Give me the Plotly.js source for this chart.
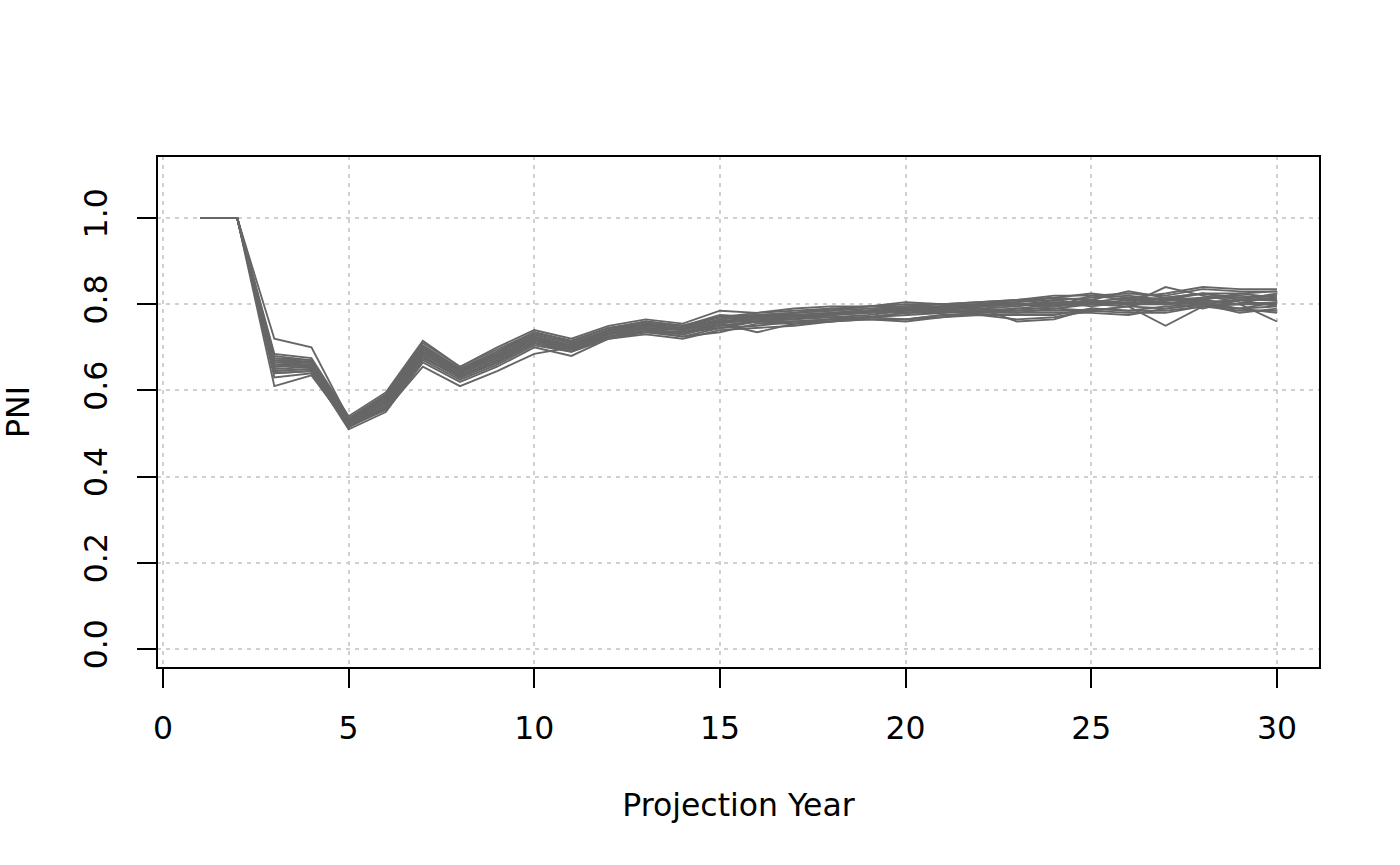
<!DOCTYPE html>
<html><head><meta charset="utf-8">
<script src="https://cdn.plot.ly/plotly-3.0.1.min.js"></script>
<style>body{margin:0;background:#fff}#c{width:1400px;height:865px}</style>
</head><body><div id="c"></div>
<script>
var years = [1,2,3,4,5,6,7,8,9,10,11,12,13,14,15,16,17,18,19,20,21,22,23,24,25,26,27,28,29,30];
var sim1 = [1,1,0.72,0.70,0.535,0.59,0.70,0.65,0.69,0.73,0.71,0.74,0.755,0.745,0.77,0.775,0.78,0.79,0.785,0.795,0.79,0.80,0.805,0.81,0.815,0.82,0.81,0.825,0.815,0.82];
var sim2 = [1,1,0.61,0.635,0.52,0.555,0.655,0.61,0.645,0.685,0.70,0.725,0.735,0.735,0.745,0.75,0.76,0.765,0.765,0.765,0.775,0.775,0.775,0.775,0.79,0.785,0.785,0.795,0.79,0.78];
var sim3 = [1,1,0.685,0.675,0.54,0.595,0.715,0.655,0.70,0.74,0.72,0.75,0.765,0.755,0.785,0.78,0.79,0.795,0.795,0.805,0.80,0.805,0.81,0.815,0.825,0.815,0.825,0.84,0.835,0.835];
var sim4 = [1,1,0.67,0.665,0.53,0.58,0.70,0.645,0.68,0.725,0.705,0.735,0.745,0.73,0.755,0.77,0.765,0.78,0.785,0.78,0.79,0.79,0.785,0.795,0.81,0.80,0.80,0.815,0.82,0.81];
var sim5 = [1,1,0.65,0.655,0.515,0.565,0.68,0.63,0.665,0.71,0.69,0.725,0.74,0.725,0.745,0.76,0.76,0.765,0.77,0.78,0.785,0.78,0.79,0.79,0.80,0.795,0.81,0.805,0.81,0.795];
var sim6 = [1,1,0.64,0.645,0.51,0.55,0.665,0.62,0.655,0.70,0.68,0.72,0.73,0.72,0.74,0.745,0.75,0.76,0.765,0.765,0.77,0.775,0.765,0.77,0.785,0.78,0.78,0.795,0.785,0.785];
var sim7 = [1,1,0.66,0.66,0.525,0.575,0.695,0.64,0.675,0.72,0.70,0.73,0.75,0.745,0.76,0.765,0.77,0.775,0.78,0.79,0.785,0.795,0.80,0.795,0.80,0.81,0.805,0.80,0.81,0.815];
var sim8 = [1,1,0.675,0.67,0.535,0.585,0.705,0.65,0.69,0.735,0.715,0.745,0.76,0.75,0.775,0.77,0.78,0.785,0.79,0.795,0.80,0.795,0.805,0.815,0.81,0.83,0.815,0.825,0.825,0.83];
var sim9 = [1,1,0.645,0.65,0.52,0.56,0.675,0.635,0.67,0.715,0.695,0.73,0.74,0.735,0.755,0.735,0.755,0.76,0.77,0.775,0.78,0.785,0.78,0.79,0.785,0.795,0.75,0.795,0.80,0.76];
var sim10 = [1,1,0.665,0.665,0.53,0.58,0.69,0.645,0.68,0.725,0.705,0.74,0.755,0.74,0.765,0.775,0.775,0.78,0.78,0.785,0.795,0.80,0.81,0.80,0.805,0.80,0.84,0.82,0.805,0.80];
var sim11 = [1,1,0.655,0.66,0.525,0.57,0.685,0.64,0.675,0.72,0.70,0.735,0.745,0.74,0.76,0.76,0.77,0.77,0.775,0.785,0.79,0.79,0.795,0.805,0.795,0.805,0.80,0.81,0.80,0.805];
var sim12 = [1,1,0.63,0.64,0.515,0.555,0.67,0.625,0.66,0.705,0.69,0.72,0.735,0.725,0.735,0.755,0.755,0.76,0.765,0.76,0.77,0.78,0.78,0.78,0.78,0.775,0.79,0.80,0.78,0.79];
var sim13 = [1,1,0.68,0.67,0.535,0.59,0.71,0.655,0.695,0.735,0.715,0.745,0.755,0.75,0.77,0.78,0.785,0.79,0.795,0.80,0.80,0.805,0.81,0.82,0.82,0.825,0.82,0.835,0.83,0.83];
var sim14 = [1,1,0.66,0.655,0.52,0.57,0.685,0.635,0.67,0.715,0.70,0.73,0.745,0.74,0.755,0.765,0.765,0.775,0.785,0.79,0.785,0.785,0.79,0.80,0.805,0.80,0.805,0.79,0.81,0.81];
var sim15 = [1,1,0.67,0.665,0.53,0.585,0.70,0.645,0.685,0.73,0.71,0.74,0.75,0.745,0.765,0.77,0.775,0.78,0.785,0.785,0.79,0.795,0.80,0.805,0.805,0.815,0.81,0.815,0.815,0.82];
var sim16 = [1,1,0.645,0.65,0.52,0.565,0.68,0.63,0.665,0.71,0.695,0.725,0.74,0.73,0.75,0.76,0.765,0.77,0.77,0.78,0.78,0.79,0.76,0.765,0.79,0.785,0.795,0.80,0.79,0.795];
var sim17 = [1,1,0.655,0.66,0.525,0.575,0.69,0.64,0.675,0.72,0.70,0.735,0.75,0.74,0.76,0.765,0.775,0.775,0.78,0.79,0.79,0.795,0.80,0.795,0.82,0.81,0.815,0.81,0.825,0.815];
var sim18 = [1,1,0.665,0.66,0.53,0.58,0.695,0.645,0.68,0.72,0.705,0.735,0.75,0.745,0.76,0.77,0.77,0.78,0.785,0.79,0.795,0.80,0.795,0.81,0.80,0.805,0.80,0.805,0.79,0.805];
var sim19 = [1,1,0.64,0.645,0.515,0.56,0.675,0.63,0.665,0.71,0.695,0.725,0.74,0.735,0.75,0.76,0.755,0.765,0.77,0.765,0.775,0.78,0.785,0.785,0.785,0.795,0.79,0.80,0.80,0.80];
var sim20 = [1,1,0.675,0.665,0.535,0.585,0.70,0.65,0.685,0.73,0.71,0.74,0.76,0.75,0.77,0.775,0.78,0.785,0.795,0.795,0.795,0.80,0.80,0.80,0.81,0.80,0.815,0.825,0.81,0.825];
var sims = [sim1,sim2,sim3,sim4,sim5,sim6,sim7,sim8,sim9,sim10,sim11,sim12,sim13,sim14,sim15,sim16,sim17,sim18,sim19,sim20];
var xTicks = [0,5,10,15,20,25,30];
var yTicks = [0,0.2,0.4,0.6,0.8,1.0];
var yTickText = ["0.0","0.2","0.4","0.6","0.8","1.0"];

var traces = sims.map(function(s,i){
  return {x: years, y: s, type:'scatter', mode:'lines', name:'sim'+(i+1),
          line:{color:'#666666', width:1.9}, hoverinfo:'skip', showlegend:false};
});
var fnt = {family:'DejaVu Sans, sans-serif', size:31.5, color:'#000'};
var layout = {
  width:1400, height:865,
  margin:{l:157, r:80, t:156, b:197, pad:0},
  paper_bgcolor:'#fff', plot_bgcolor:'#fff',
  showlegend:false,
  font: fnt,
  xaxis:{range:[-0.16,31.16], tickmode:'array', tickvals:xTicks, ticktext:xTicks.map(String),
         ticks:'outside', ticklen:19, tickwidth:2, tickcolor:'#000',
         showgrid:true, gridcolor:'#d0d0d0', griddash:'4px,5px', gridwidth:2,
         zeroline:false, showline:false, tickfont:fnt, ticklabelstandoff:13,
         title:{text:'Projection Year', font:fnt, standoff:49}},
  yaxis:{range:[-0.044,1.144], tickmode:'array', tickvals:yTicks, ticktext:yTickText,
         ticks:'outside', ticklen:19, tickwidth:2, tickcolor:'#000', tickangle:-90,
         showgrid:true, gridcolor:'#d0d0d0', griddash:'4px,5px', gridwidth:2,
         zeroline:false, showline:false, tickfont:fnt, ticklabelstandoff:17,
         title:{text:'PNI', font:fnt, standoff:46}},
  shapes:[{type:'rect', xref:'paper', yref:'paper', x0:0, x1:1, y0:0, y1:1,
           line:{color:'#000', width:2}, fillcolor:'rgba(0,0,0,0)', layer:'above'}]
};
Plotly.newPlot('c', traces, layout, {displayModeBar:false, staticPlot:true});
</script>
</body></html>
